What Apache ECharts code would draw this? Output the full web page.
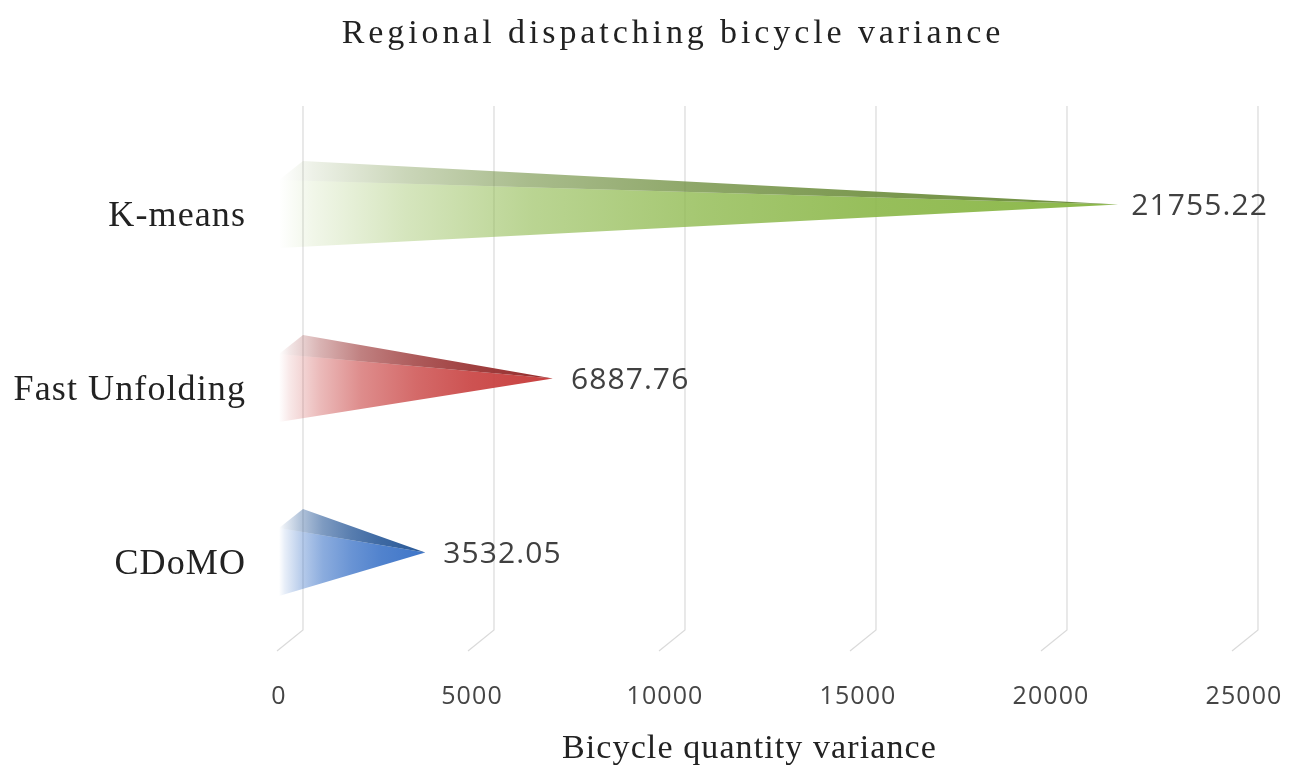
<!DOCTYPE html>
<html>
<head>
<meta charset="utf-8">
<script src="https://cdn.jsdelivr.net/npm/echarts@6/dist/echarts.min.js"></script>
<style>html,body{margin:0;padding:0;background:#fff}#main{width:1289px;height:772px}</style>
</head>
<body>
<div id="main"></div>
<script>
var titleText = 'Regional dispatching bicycle variance';
var axisNameText = 'Bicycle quantity variance';
var categories = ['K-means', 'Fast Unfolding', 'CDoMO'];
var values = [21755.22, 6887.76, 3532.05];
var tickValues = [0, 5000, 10000, 15000, 20000, 25000];

var frontColors = ['140,184,74', '200,64,63', '62,117,200'];
var topColors = ['110,142,62', '150,44,44', '40,88,152'];

// letter spacing for the serif texts (the reference typesets them spaced out)
(function () {
  var proto = CanvasRenderingContext2D.prototype;
  var orig = proto.fillText;
  proto.fillText = function (t, x, y, m) {
    var sp = null;
    if (t === titleText) sp = '3.9px';
    else if (t === axisNameText) sp = '1.1px';
    else if (categories.indexOf(t) >= 0) sp = '1.1px';
    if (sp && 'letterSpacing' in this) {
      var old = this.letterSpacing;
      this.letterSpacing = sp;
      var r = m === undefined ? orig.call(this, t, x, y) : orig.call(this, t, x, y, m);
      this.letterSpacing = old;
      return r;
    }
    return m === undefined ? orig.call(this, t, x, y) : orig.call(this, t, x, y, m);
  };
})();

var chart = echarts.init(document.getElementById('main'));

var DX = 24, DY = -19, PERSP = 0.985;

function grad(rgb, x1, x2, stops) {
  return {
    type: 'linear', global: true, x: x1, y: 0, x2: x2, y2: 0,
    colorStops: stops.map(function (s) { return { offset: s[0], color: 'rgba(' + rgb + ',' + s[1] + ')' }; })
  };
}

var fadeStops = [[0, 0.0], [0.04, 0.12], [0.15, 0.36], [0.3, 0.6], [0.5, 0.78], [0.7, 0.9], [1, 1]];

var option = {
  animation: false,
  backgroundColor: '#fff',
  title: {
    text: titleText,
    left: 668, top: 12, textAlign: 'center',
    textStyle: { fontFamily: 'Liberation Serif', fontWeight: 'normal', fontSize: 34, color: '#222' }
  },
  grid: [
    { left: 279, top: 130, width: 965, height: 522 },
    { left: 303, top: 106, width: 955, height: 524 }
  ],
  xAxis: [
    {
      gridIndex: 0, type: 'value', min: 0, max: 25000, interval: 5000,
      axisLine: { show: false }, axisTick: { show: false }, splitLine: { show: false },
      axisLabel: {
        margin: 32, fontFamily: 'Open Sans', fontSize: 25, color: '#454545',
        formatter: function (v) { return String(v); }
      },
      name: axisNameText, nameLocation: 'middle', nameGap: 80,
      nameTextStyle: { fontFamily: 'Liberation Serif', fontSize: 34, color: '#222', padding: [0, 24, 0, 0] }
    },
    {
      gridIndex: 1, type: 'value', min: 0, max: 25000, interval: 5000, show: false
    }
  ],
  yAxis: [
    {
      gridIndex: 0, type: 'category', data: categories, inverse: true,
      axisLine: { show: false }, axisTick: { show: false },
      axisLabel: { margin: 33, fontFamily: 'Liberation Serif', fontSize: 36, color: '#222' }
    },
    { gridIndex: 1, type: 'value', min: 0, max: 1, show: false }
  ],
  series: [
    {
      type: 'custom', xAxisIndex: 1, yAxisIndex: 1, silent: true, z: 1,
      data: tickValues.map(function (v) { return [v]; }),
      renderItem: function (params, api) {
        var v = api.value(0);
        var t = api.coord([v, 1]);
        var b = api.coord([v, 0]);
        return {
          type: 'polyline',
          shape: { points: [t, b, [b[0] - 26, b[1] + 21]] },
          style: { stroke: '#DADADA', lineWidth: 1.2, fill: null }
        };
      }
    },
    {
      type: 'custom', xAxisIndex: 0, yAxisIndex: 0, silent: true, z: 2,
      data: values.map(function (v, i) { return [v, i]; }),
      renderItem: function (params, api) {
        var v = api.value(0), ci = api.value(1);
        var base = api.coord([0, ci]);
        var x0 = base[0], yc = base[1];
        var yT = yc - 37, yB = yc + 31;
        var xt = x0 + DX / 2 + (api.coord([v, ci])[0] - x0) * PERSP;
        var yt = (yT + yB) / 2 + DY / 2;
        var fc = frontColors[ci % 3], tc = topColors[ci % 3];
        return {
          type: 'group',
          children: [
            {
              type: 'polygon',
              shape: { points: [[x0, yT], [x0, yB], [xt, yt]] },
              style: { fill: grad(fc, x0, xt, fadeStops) }
            },
            {
              type: 'polygon',
              shape: { points: [[x0, yT], [x0 + DX, yT + DY], [xt, yt]] },
              style: { fill: grad(tc, x0, xt, fadeStops) }
            },
            {
              type: 'text',
              style: {
                x: xt + (ci === 0 ? 13 : 18), y: yt + 2,
                text: v.toFixed(2),
                align: 'left', verticalAlign: 'middle',
                fontFamily: 'Open Sans', fontSize: 30, fill: '#404040'
              }
            }
          ]
        };
      }
    }
  ]
};
chart.setOption(option);
</script>
</body>
</html>
